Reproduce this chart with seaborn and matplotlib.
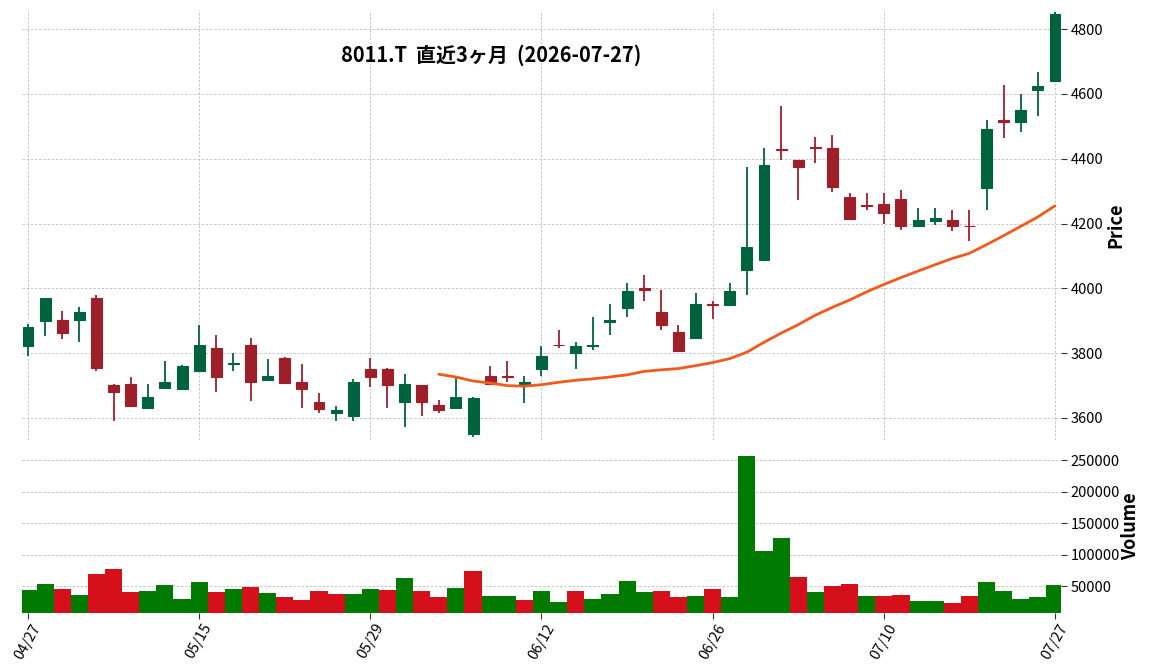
import numpy as np
import pandas as pd
import matplotlib
matplotlib.use("Agg")
import matplotlib.pyplot as plt
import seaborn as sns

# ---- data ----
dates = ["04/27", "04/28", "04/30", "05/01", "05/07", "05/08", "05/11", "05/12", "05/13", "05/14",
         "05/15", "05/18", "05/19", "05/20", "05/21", "05/22", "05/25", "05/26", "05/27", "05/28",
         "05/29", "06/01", "06/02", "06/03", "06/04", "06/05", "06/08", "06/09", "06/10", "06/11",
         "06/12", "06/15", "06/16", "06/17", "06/18", "06/19", "06/22", "06/23", "06/24", "06/25",
         "06/26", "06/29", "06/30", "07/01", "07/02", "07/03", "07/06", "07/07", "07/08", "07/09",
         "07/10", "07/13", "07/14", "07/15", "07/16", "07/17", "07/21", "07/22", "07/23", "07/24",
         "07/27"]

opens = [3823, 3900, 3903, 3903, 3970, 3703, 3706, 3630, 3694, 3688,
         3744, 3816, 3766, 3824, 3716, 3786, 3712, 3650, 3614, 3605,
         3752, 3752, 3648, 3703, 3641, 3630, 3550, 3730, 3729, 3706,
         3750, 3826, 3799, 3822, 3895, 3940, 4001, 3927, 3866, 3848,
         3952, 3950, 4057, 4088, 4429, 4395, 4435, 4434, 4283, 4257,
         4260, 4275, 4193, 4208, 4210, 4193, 4310, 4521, 4513, 4611,
         4641]
highs = [3889, 3971, 3929, 3942, 3978, 3704, 3726, 3705, 3776, 3762,
         3886, 3855, 3800, 3847, 3782, 3787, 3768, 3677, 3637, 3720,
         3785, 3753, 3735, 3703, 3655, 3724, 3665, 3760, 3776, 3729,
         3822, 3872, 3834, 3911, 3951, 4018, 4040, 3994, 3888, 3985,
         3960, 4015, 4375, 4434, 4563, 4396, 4467, 4474, 4294, 4294,
         4294, 4305, 4249, 4249, 4243, 4243, 4520, 4628, 4600, 4667,
         4852]
lows = [3792, 3854, 3845, 3834, 3745, 3590, 3636, 3629, 3693, 3687,
        3742, 3680, 3745, 3653, 3715, 3705, 3631, 3615, 3590, 3590,
        3695, 3631, 3573, 3607, 3615, 3629, 3542, 3704, 3711, 3646,
        3729, 3815, 3751, 3810, 3855, 3911, 3960, 3872, 3806, 3847,
        3905, 3949, 3980, 4087, 4395, 4272, 4386, 4296, 4210, 4241,
        4200, 4180, 4192, 4195, 4178, 4146, 4241, 4465, 4483, 4532,
        4641]
closes = [3881, 3970, 3861, 3927, 3755, 3679, 3638, 3666, 3712, 3761,
          3826, 3725, 3769, 3710, 3730, 3709, 3688, 3627, 3625, 3712,
          3725, 3701, 3706, 3648, 3625, 3664, 3663, 3705, 3727, 3712,
          3792, 3824, 3822, 3825, 3901, 3991, 3994, 3888, 3807, 3952,
          3950, 3992, 4127, 4380, 4427, 4374, 4433, 4313, 4214, 4255,
          4233, 4193, 4210, 4216, 4193, 4191, 4492, 4513, 4549, 4625,
          4846]
volumes = [44200, 53700, 45800, 36200, 69600, 77500, 41000, 42600, 52100, 29900,
           56900, 41000, 45800, 48900, 39400, 33100, 28300, 42600, 37800, 37800,
           45800, 44200, 63200, 42600, 33100, 47400, 74300, 34700, 34700, 28300,
           42600, 25100, 42600, 29900, 37800, 58500, 41000, 42600, 33100, 34700,
           45800, 33100, 256900, 106100, 126700, 64800, 41000, 50500, 53700, 34700,
           34700, 36200, 26700, 26700, 23500, 34700, 56900, 42600, 29900, 33100,
           52100]

title = "8011.T  直近3ヶ月  (2026-07-27)"

# ---- styling ----
sns.set_theme(style="whitegrid")
plt.rcParams['font.family'] = ['Noto Sans CJK JP', 'DejaVu Sans']
plt.rcParams['axes.unicode_minus'] = False

UP_C, DOWN_C = "#00633f", "#9e1f2a"
VUP_C, VDOWN_C = "#007a00", "#d5101b"
MA_C = "#f05a1c"
GRID_KW = dict(color="#bdbdbd", linestyle=(0, (3, 2)), linewidth=0.6)

n = len(closes)
idx = np.arange(n)
df = pd.DataFrame({"idx": idx, "open": opens, "high": highs, "low": lows,
                   "close": closes, "volume": volumes})
df["ma"] = df["close"].rolling(25).mean()
prev = df["close"].shift(1)
df["vdir"] = np.where((df["close"] >= prev) | prev.isna(), "up", "down")

fig = plt.figure(figsize=(11.52, 6.7), dpi=100)
axp = fig.add_axes([22 / 1152, 1 - 440 / 670, (1061 - 22) / 1152, 430 / 670])
axv = fig.add_axes([22 / 1152, 1 - 613 / 670, (1061 - 22) / 1152, 173 / 670], sharex=axp)

for ax in (axp, axv):
    ax.set_facecolor("white")
    for s in ax.spines.values():
        s.set_visible(False)
    ax.grid(True, **GRID_KW)
    ax.set_axisbelow(True)

# candles
up = df["close"] >= df["open"]
ccol = np.where(up, UP_C, DOWN_C)
axp.vlines(df["idx"], df["low"], df["high"], colors=ccol, linewidth=1.3, zorder=2)
body_lo = np.minimum(df["open"], df["close"])
body_h = np.maximum(np.abs(df["close"] - df["open"]), 2.0)
axp.bar(df["idx"], body_h, bottom=body_lo, width=0.64, color=ccol,
        edgecolor=ccol, linewidth=0.8, zorder=3)

# moving average
sns.lineplot(data=df.dropna(subset=["ma"]), x="idx", y="ma", ax=axp, color=MA_C,
             linewidth=2.0, estimator=None, zorder=4)

# volume
sns.barplot(data=df, x="idx", y="volume", hue="vdir", order=list(idx),
            palette={"up": VUP_C, "down": VDOWN_C}, dodge=False, width=1.0,
            saturation=1, legend=False, ax=axv, linewidth=0, zorder=2)

# axes limits / ticks
axp.set_xlim(-0.35, n - 1 + 0.35)
axp.set_ylim(3532, 4859)
axv.set_ylim(7000, 282600)

tick_pos = list(range(0, n, 10))
axv.set_xticks(tick_pos)
axv.set_xticklabels([dates[i] for i in tick_pos], rotation=60, fontsize=10.5)
plt.setp(axp.get_xticklabels(), visible=False)
axp.tick_params(axis="x", length=0)

axp.set_yticks([3600, 3800, 4000, 4200, 4400, 4600, 4800])
axv.set_yticks([50000, 100000, 150000, 200000, 250000])
axv.set_yticklabels([str(v) for v in [50000, 100000, 150000, 200000, 250000]])
for ax in (axp, axv):
    ax.yaxis.tick_right()
    ax.yaxis.set_label_position("right")
    ax.tick_params(axis="y", length=4, width=0.8, color="#333333", labelsize=10.5,
                   labelcolor="black", pad=3, left=False, right=True)
axv.tick_params(axis="x", length=4, width=0.8, color="#333333", bottom=True,
                labelsize=10.5, labelcolor="black", pad=2)

axp.set_xlabel("")
axv.set_xlabel("")
axp.set_ylabel("Price", fontsize=13, fontweight="bold", labelpad=2, color="black")
axv.set_ylabel("Volume", fontsize=13, fontweight="bold", labelpad=1, color="black")

fig.text(491 / 1152, 1 - 55 / 670, title, ha="center", va="center",
         fontsize=14.4, fontweight="bold", color="black")

fig.savefig("out.png", dpi=100)
